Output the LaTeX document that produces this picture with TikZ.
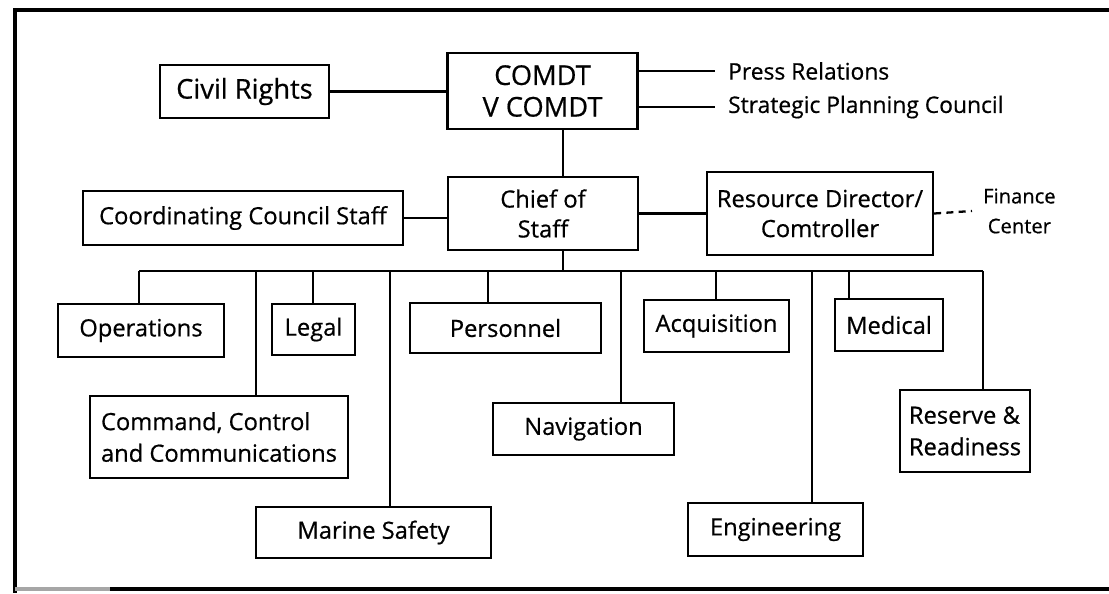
\documentclass[tikz,border=0pt]{standalone}
\usepackage{fontspec}
\setmainfont{Open Sans}[FakeBold=0.6, Ligatures=NoCommon]

\begin{document}
\begin{tikzpicture}
        [x=0.02cm, y=-0.02cm, every node/.style={inner sep=0, font=\fontsize{13.5pt}{17pt}\selectfont},
        box/.style 2 args={draw, line width=1.3pt, minimum width=#1cm, minimum height=#2cm, align=center},
        lbl/.style={anchor=west, inner xsep=0.24cm, font=\fontsize{13pt}{14pt}\selectfont},
        every path/.style={line width=1.3pt}]

        \useasboundingbox (0,0) rectangle (1109,593);

        % frame, open on the right
        \draw[line width=2.6pt] (1109,10) -- (15,10) -- (15,593);
        \draw[line width=1.8pt, black!35] (15,589) -- (110,589);
        \draw[line width=1.8pt] (110,589) -- (1109,589);

        \node[box={3.80}{1.52}, font=\fontsize{15.5pt}{18pt}\selectfont] (comdt) at (542.5,91) {COMDT\\V COMDT};
        \node[box={3.38}{1.06}, font=\fontsize{15.5pt}{18pt}\selectfont] (civil) at (244.5,91.5) {Civil Rights};
        \node[lbl] (press) at (715,71) {Press Relations};
        \node[lbl] (plan) at (715,107) {Strategic Planning Council};

        \node[box={3.80}{1.46}] (chief) at (543,213.5) {Chief of\\Staff};
        \node[box={6.40}{1.08}] (coord) at (243,218) {Coordinating Council Staff};
        \node[box={4.52}{1.66}] (rdir) at (820,213.5) {Resource Director/\\Comtroller};
        \node[anchor=west, inner xsep=0.2cm, align=center, font=\fontsize{11.5pt}{17pt}\selectfont] (fin) at (972,211) {Finance\\Center};

        \node[box={3.32}{1.06}] (ops) at (141,330.5) {Operations};
        \node[box={1.66}{1.02}] (legal) at (313.5,329.5) {Legal};
        \node[box={3.82}{1.00}] (pers) at (505.5,328) {Personnel};
        \node[box={2.90}{1.04}] (acq) at (716.5,326) {Acquisition};
        \node[box={2.16}{1.04}] (med) at (889,325) {Medical};
        \node[box={5.16}{1.64}, align=left, font=\fontsize{13.5pt}{18pt}\selectfont] (c3) at (219,437) {Command, Control\\and Communications};
        \node[box={3.62}{1.04}] (nav) at (583.5,429) {Navigation};
        \node[box={2.60}{1.64}, align=left, font=\fontsize{13.5pt}{18pt}\selectfont] (rsv) at (965,431) {Reserve \&\\Readiness};
        \node[box={4.70}{1.02}] (msafe) at (373.5,532.5) {Marine Safety};
        \node[box={3.50}{1.06}] (eng) at (775.5,529.5) {Engineering};

        \coordinate (bus) at (563,271);
        \coordinate (busL) at (139,271);
        \coordinate (busR) at (983,271);

        \draw (civil.east) -- (civil.east -| comdt.west);
        \draw (comdt.east |- press.west) -- (press.west);
        \draw (comdt.east |- plan.west) -- (plan.west);
        \draw (comdt.south -| bus) -- (chief.north -| bus);
        \draw (coord.east) -- (coord.east -| chief.west);
        \draw (chief.east) -- (rdir.west);
        \draw[dash pattern=on 4pt off 3pt] (rdir.east) -- (fin.west);
        \draw (chief.south -| bus) -- (bus);
        \draw (busL) -- (busR);

        \foreach \n/\x in {ops/139, c3/256, legal/313, msafe/390, pers/488, nav/621, acq/716, eng/812, med/849, rsv/983}
          \draw (\x,0 |- bus) -- (\x,0 |- \n.north);

      \end{tikzpicture}
\end{document}
